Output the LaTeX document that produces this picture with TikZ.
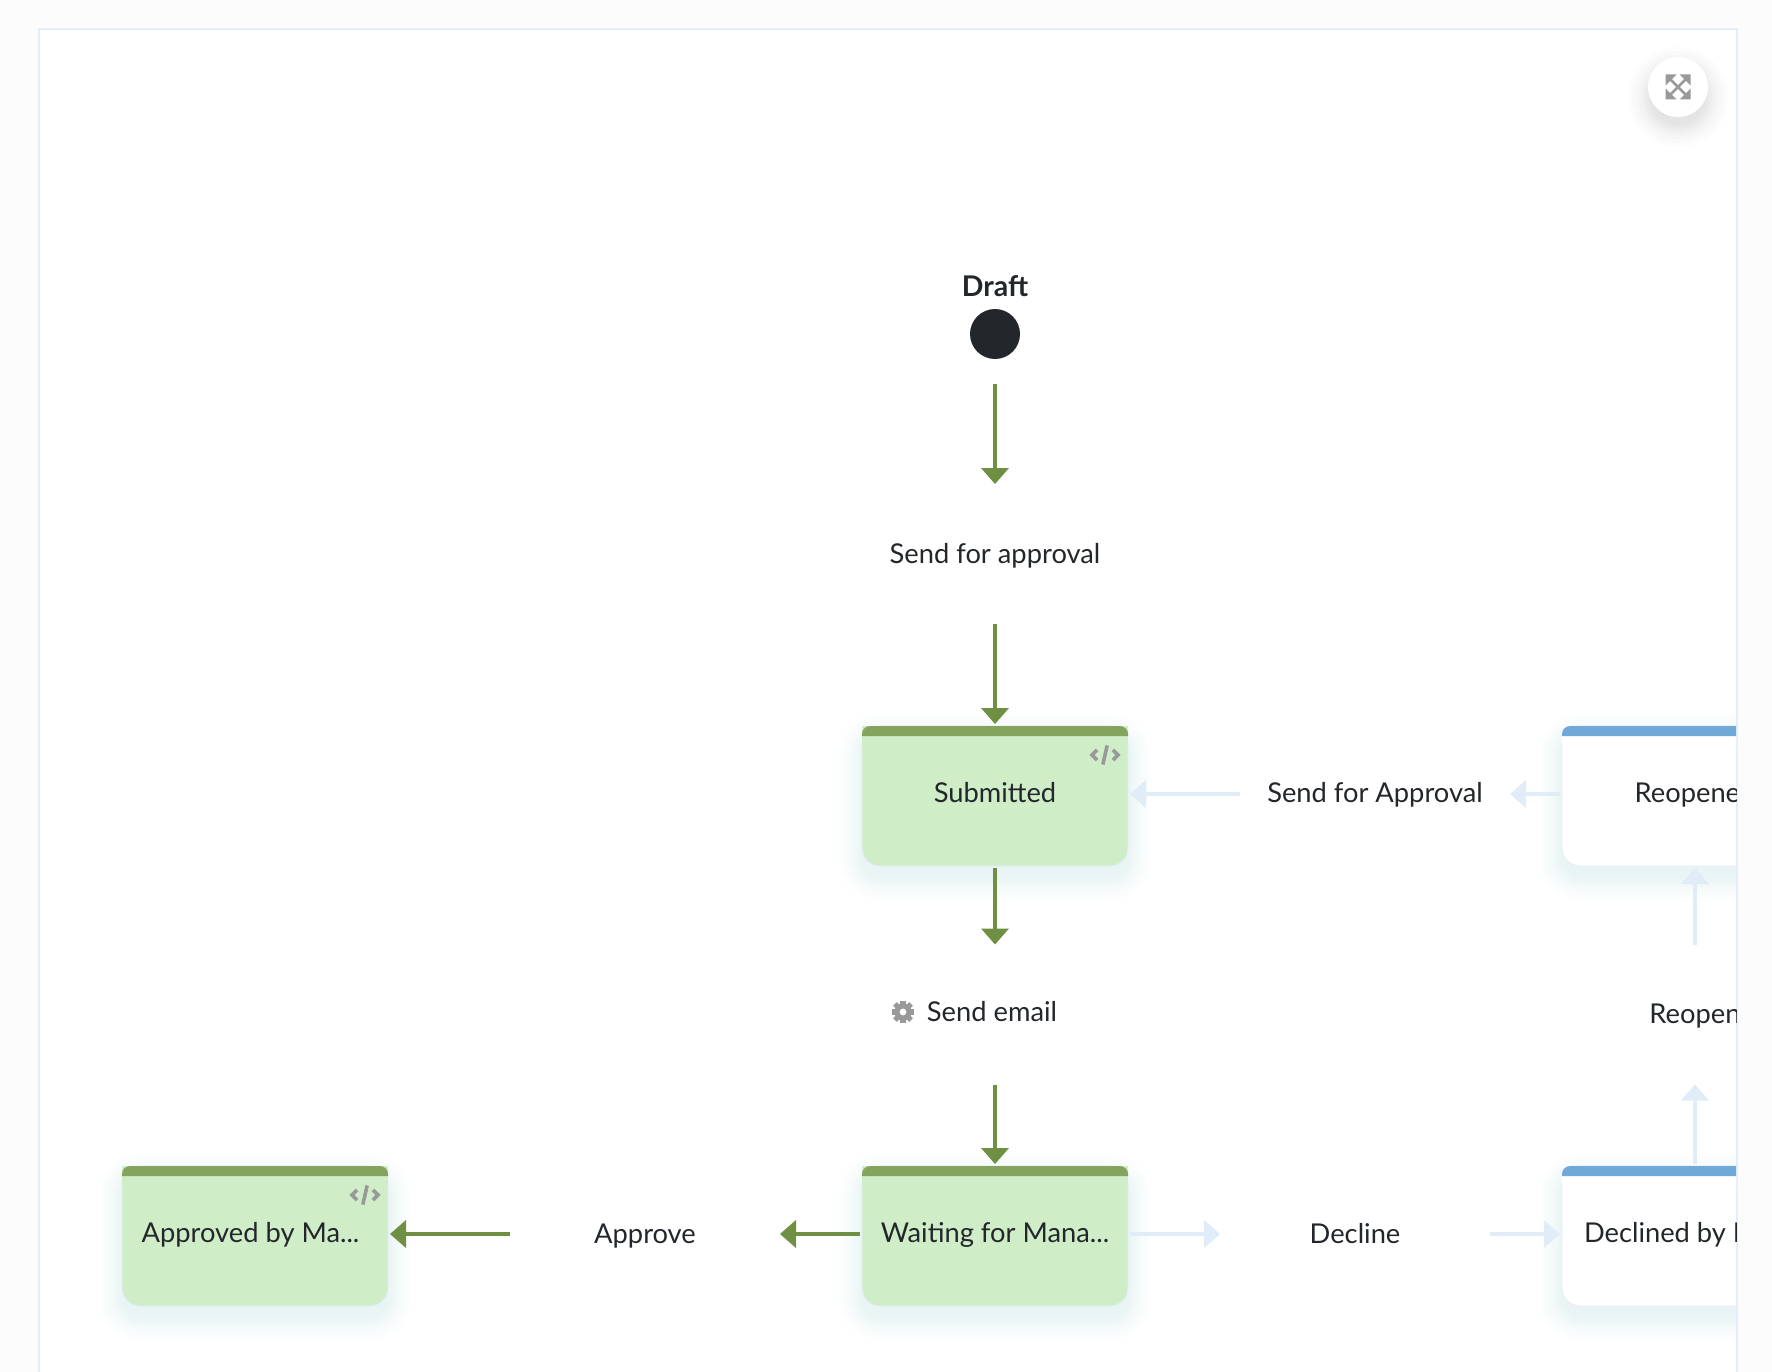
\documentclass[tikz,border=0pt]{standalone}
\usepackage{fontspec}
\setmainfont{Lato}
\usetikzlibrary{arrows.meta,backgrounds,calc,positioning}

\definecolor{pagegrey}{HTML}{FCFCFC}
\definecolor{panelline}{HTML}{E3EEFA}
\definecolor{inkdark}{HTML}{23272B}
\definecolor{pathgreen}{HTML}{6F8F43}
\definecolor{palearrow}{HTML}{E0EDF8}
\definecolor{cardgreen}{HTML}{CFEEC8}
\definecolor{bargreen}{HTML}{84A35C}
\definecolor{barblue}{HTML}{6FA9D8}
\definecolor{glowblue}{HTML}{5AA0E0}
\definecolor{icongrey}{HTML}{999999}

\tikzset{
	statecard/.style={rectangle,minimum width=266pt,minimum height=140pt,inner sep=0pt,outer sep=0pt,rounded corners=18pt,draw=panelline,line width=.8pt,font=\fontsize{27.3}{30}\selectfont,text=inkdark,text height=20pt,text depth=8pt},
	actionlabel/.style={rectangle,minimum width=266pt,minimum height=136pt,inner sep=0pt,outer sep=0pt,font=\fontsize{27.3}{30}\selectfont,text=inkdark,text height=20pt,text depth=8pt},
	livearrow/.style={every edge/.style={draw,->,color=pathgreen,line width=3.5pt}},
	palepath/.style={every edge/.style={draw,->,color=palearrow,line width=3.5pt}},
	codeicon/.pic={
		\draw[icongrey,line width=3.6pt] (-6.5,-6.5) -- (-13,0) -- (-6.5,6.5);
		\draw[icongrey,line width=3.6pt] (6.5,-6.5) -- (13,0) -- (6.5,6.5);
		\draw[icongrey,line width=3.6pt] (2.6,-11.5) -- (-2.6,11.5);
	},
	gearicon/.pic={
		\fill[icongrey] (0,0) circle (8.6pt);
		\foreach \a in {0,45,...,315}
			\fill[icongrey,rotate=\a] (-2.6,-11.4) rectangle (2.6,-6);
		\fill[white] (0,0) circle (3.4pt);
	}
}

\begin{document}
\begin{tikzpicture}[x=1pt,y=-1pt,on grid,shorten >=2pt,shorten <=2pt,>={Triangle[width=28pt,length=16pt,line width=0pt]}]
	\useasboundingbox (0,0) rectangle (1772,1372);
	\begin{scope}
		\clip (39,29) rectangle (1736,1372);
		% states
		\node[circle,fill=inkdark,minimum size=50pt,inner sep=0pt] (draftdot) at (995,334) {};
		\node[font=\bfseries\fontsize{28.5}{30}\selectfont,text=inkdark,inner sep=0pt] (draftname) at (995,286) {Draft};
		\node[actionlabel,text depth=2pt] (sendapproval) [below=220pt of draftdot] {Send for approval};
		\node[statecard,fill=cardgreen] (submitted) [below=242pt of sendapproval] {Submitted};
		\node[actionlabel,text depth=6pt] (sendemail) [below=218.5pt of submitted] {\hspace*{-6pt}Send email};
		\node[statecard,fill=cardgreen] (waiting) [below=221.5pt of sendemail] {Waiting for Mana...};
		\node[actionlabel,text depth=6pt] (approve) [left=350pt of waiting] {Approve};
		\node[statecard,fill=cardgreen] (approved) [left=390pt of approve] {\hspace*{-9pt}Approved by Ma...};
		\node[actionlabel,text depth=6pt] (decline) [right=360pt of waiting] {Decline};
		\node[statecard,fill=white] (declined) [right=340pt of decline] {Declined by Man...};
		\node[actionlabel,text depth=2pt] (reopen) [above=221.5pt of declined] {Reopen};
		\node[statecard,fill=white] (reopened) [above=218.5pt of reopen] {Reopened};
		\node[actionlabel] (sendapprovalback) [left=320pt of reopened] {Send for Approval};
		% top bars
		\foreach \n/\b/\c in {submitted/cardgreen/bargreen,waiting/cardgreen/bargreen,approved/cardgreen/bargreen,reopened/white/barblue,declined/white/barblue} {
			\fill[\b] (\n.north west) rectangle ($(\n.north east)+(0,20)$);
			\fill[\c] ($(\n.north west)+(0,10)$) [rounded corners=8pt] -- (\n.north west) -- (\n.north east) [sharp corners] -- ($(\n.north east)+(0,10)$) -- cycle;
		}
		% icons
		\pic at ($(submitted.north east)+(-23,29)$) {codeicon};
		\pic at ($(approved.north east)+(-23,29)$) {codeicon};
		\pic at (903,1012) {gearicon};
		% connectors
		\path[livearrow]
			(draftdot) edge[shorten <=25pt] (sendapproval)
			(sendapproval) edge (submitted)
			(submitted) edge (sendemail)
			(sendemail) edge (waiting)
			([yshift=2pt]waiting.west) edge ([yshift=2pt]approve.east)
			([yshift=2pt]approve.west) edge ([yshift=2pt]approved.east);
		\path[palepath]
			([yshift=2pt]waiting.east) edge ([yshift=2pt]decline.west)
			([yshift=2pt]decline.east) edge ([yshift=2pt]declined.west)
			(declined) edge (reopen)
			(reopen) edge (reopened)
			([yshift=2pt]reopened.west) edge ([yshift=2pt]sendapprovalback.east)
			([yshift=2pt]sendapprovalback.west) edge ([yshift=2pt]submitted.east);
	\end{scope}
	% fullscreen button
	\node[circle,fill=white,minimum size=60pt,inner sep=0pt] (expandbtn) at (1678,87) {};
	\foreach \sx/\sy in {1/1,1/-1,-1/1,-1/-1} {
		\begin{scope}[shift={(expandbtn.center)},xscale=\sx,yscale=\sy]
			\draw[icongrey,line width=2.6pt,shorten >=0pt,shorten <=0pt] (0,0) -- (9,9);
			\fill[icongrey] (12.5,12.5) -- (1.5,12.5) -- (12.5,1.5) -- cycle;
		\end{scope}
	}
	\begin{scope}[on background layer]
		\fill[pagegrey] (0,0) rectangle (1772,1372);
		\fill[white] (39,29) rectangle (1737,1372);
		\draw[panelline,line width=2pt,shorten >=0pt,shorten <=0pt] (39,1372) -- (39,29) -- (1737,29) -- (1737,1372);
		\foreach \i in {-2,0,2,4,6,9,12,16,20}
			\fill[black,opacity=.012] ($(expandbtn.center)+(0pt,-10pt)$) circle ({(30+\i)*1pt});
		\begin{scope}
			\clip (39,29) rectangle (1736,1372);
			\foreach \n in {submitted,waiting,approved,reopened,declined}
				\foreach \i in {0,2,4,6,8,10,12,14,17,20,24}
					\fill[glowblue,opacity=.0085,rounded corners={(18+\i)*1pt}] ($(\n.north west)+(-\i pt,\i pt-11pt)$) rectangle ($(\n.south east)+(\i pt,-\i pt-11pt)$);
		\end{scope}
	\end{scope}
\end{tikzpicture}
\end{document}
